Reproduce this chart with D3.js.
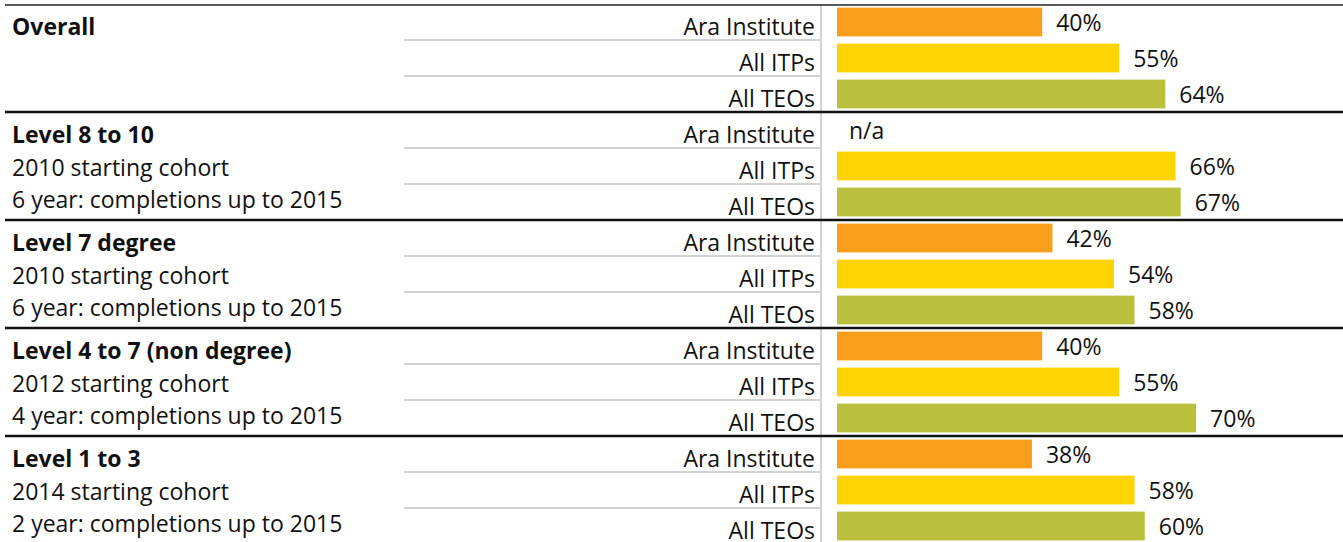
<!DOCTYPE html>
<meta charset="utf-8">
<script src="https://d3js.org/d3.v7.min.js"></script>
<style>
  body { margin: 0; background: #fff; }
  text { font-family: "Open Sans", sans-serif; fill: #111; }
</style>
<body>
<div id="chart"></div>
</body>
<script>
    // data
    const sections = ["Overall", "Level 8 to 10", "Level 7 degree", "Level 4 to 7 (non degree)", "Level 1 to 3"];
    const sectionNotes = [
        [],
        ["2010 starting cohort", "6 year: completions up to 2015"],
        ["2010 starting cohort", "6 year: completions up to 2015"],
        ["2012 starting cohort", "4 year: completions up to 2015"],
        ["2014 starting cohort", "2 year: completions up to 2015"]
    ];
    const groups = ["Ara Institute", "All ITPs", "All TEOs"];
    const araValues = [40, null, 42, 40, 38];
    const itpValues = [55, 66, 54, 55, 58];
    const teoValues = [64, 67, 58, 70, 60];
    const colors = ["#f89e1b", "#fed402", "#bbbf3e"];

    const W = 1343, H = 542;
    const svg = d3.select("#chart").append("svg")
        .attr("width", W)
        .attr("height", H);

    const rows = [];
    sections.forEach(function (s, i) {
        [araValues, itpValues, teoValues].forEach(function (arr, j) {
            rows.push({section: s, group: groups[j], value: arr[i], color: colors[j]});
        });
    });

    var ySec = d3.scaleBand().domain(sections).range([4, 544]);
    var yRow = d3.scaleBand().domain(groups).range([0, ySec.bandwidth()])
        .paddingInner(0.2).paddingOuter(0.1);
    var x = d3.scaleLinear().domain([0, 100]).range([837, 1350]);

    const labelLeft = 404, divX = 821;
    const fs = "23px";

    // light gray row separators in label column
    sections.forEach(function (s) {
        [1, 2].forEach(function (k) {
            svg.append("line")
                .attr("x1", labelLeft).attr("x2", divX)
                .attr("y1", ySec(s) + yRow.step() * k).attr("y2", ySec(s) + yRow.step() * k)
                .attr("stroke", "#d2d2d2").attr("stroke-width", 2);
        });
    });

    // vertical divider
    svg.append("line")
        .attr("x1", divX).attr("x2", divX)
        .attr("y1", 5).attr("y2", H)
        .attr("stroke", "#d2d2d2").attr("stroke-width", 2);

    // top line + section separators
    svg.append("line")
        .attr("x1", 5).attr("x2", W).attr("y1", 5).attr("y2", 5)
        .attr("stroke", "#222").attr("stroke-width", 1.5);
    sections.slice(1).forEach(function (s) {
        svg.append("line")
            .attr("x1", 5).attr("x2", W)
            .attr("y1", ySec(s)).attr("y2", ySec(s))
            .attr("stroke", "#111").attr("stroke-width", 2.5);
    });

    // section titles and notes
    const sec = svg.selectAll(".sec").data(sections).enter().append("g")
        .attr("class", "sec")
        .attr("transform", function (d) { return "translate(0," + ySec(d) + ")"; });
    sec.append("text")
        .attr("x", 12).attr("y", 31)
        .style("font-size", fs).style("font-weight", "bold")
        .text(function (d) { return d; });
    sec.each(function (d, i) {
        d3.select(this).selectAll(".note").data(sectionNotes[i]).enter().append("text")
            .attr("class", "note")
            .attr("x", 12).attr("y", function (n, k) { return 63.5 + k * 32.5; })
            .style("font-size", fs)
            .text(function (n) { return n; });
    });

    // group labels
    svg.selectAll(".glabel").data(rows).enter().append("text")
        .attr("class", "glabel")
        .attr("x", 815)
        .attr("y", function (d) { return ySec(d.section) + yRow(d.group) + yRow.bandwidth() - 1.5; })
        .attr("text-anchor", "end")
        .style("font-size", fs)
        .text(function (d) { return d.group; });

    // bars
    svg.selectAll(".bar").data(rows.filter(function (d) { return d.value != null; })).enter().append("rect")
        .attr("class", "bar")
        .attr("x", x(0))
        .attr("y", function (d) { return ySec(d.section) + yRow(d.group); })
        .attr("width", function (d) { return x(d.value) - x(0); })
        .attr("height", yRow.bandwidth())
        .attr("fill", function (d) { return d.color; });

    // value labels
    svg.selectAll(".vlabel").data(rows).enter().append("text")
        .attr("class", "vlabel")
        .attr("x", function (d) { return d.value == null ? x(0) + 12 : x(d.value) + 14; })
        .attr("y", function (d) { return ySec(d.section) + yRow(d.group) + yRow.bandwidth() / 2 + 8.5; })
        .style("font-size", fs)
        .text(function (d) { return d.value == null ? "n/a" : d.value + "%"; });
</script>
